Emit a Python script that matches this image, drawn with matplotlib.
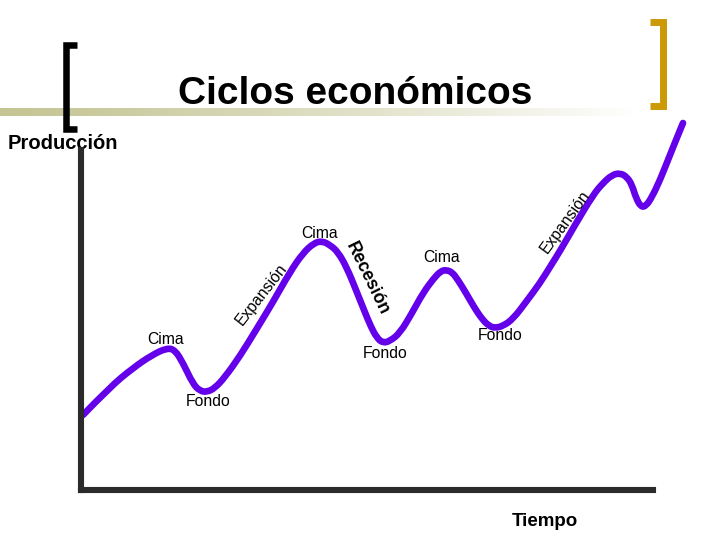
import numpy as np
import matplotlib.pyplot as plt
from matplotlib.path import Path
from matplotlib.patches import PathPatch

# curve (time, output), origin at the axes corner
tiempo = [2, 29, 52, 71, 86, 94, 102, 112, 119, 126, 134, 144, 159, 175, 192,
          209, 222, 233, 241, 249, 257, 266, 275, 283, 290, 296, 302, 309, 319,
          331, 342, 353, 360, 365, 371, 377, 385, 393, 401, 408, 414, 422, 432,
          445, 459, 469, 479, 494, 512, 522, 531, 539, 546, 551, 555, 560, 565,
          571, 579, 587, 595, 602]
produccion = [75, 103, 122, 135, 142, 140, 127, 106, 99, 98, 102, 113, 134, 160,
              188, 218, 237, 247, 249, 245, 238, 222, 200, 180, 163, 152, 147,
              149, 157, 177, 197, 212, 219, 220, 218, 210, 197, 183, 171, 164,
              162, 164, 171, 188, 207, 223, 239, 265, 295, 307, 315, 317, 313,
              305, 292, 283, 284, 293, 310, 330, 350, 367]

# labels and where they sit
puntos = ['Cima', 'Cima', 'Cima', 'Fondo', 'Fondo', 'Fondo']
puntos_x = [85, 239, 361, 127, 304, 419]
puntos_y = [151, 257, 232, 88, 136, 154]
fases = ['Expansión', 'Recesión', 'Expansión']
fases_x = [181, 286, 484]
fases_y = [196, 211, 268]
fases_rot = [52, -64, 54]

titulo = 'Ciclos económicos'
eje_y = 'Producción'
eje_x = 'Tiempo'

W, H = 720, 540
fig = plt.figure(figsize=(W / 100, H / 100), dpi=100)
fig.patch.set_facecolor('white')

# slide decoration, pixel coordinates
deco = fig.add_axes([0, 0, 1, 1])
deco.set_xlim(0, W)
deco.set_ylim(H, 0)
deco.axis('off')

band = np.ones((1, 640, 4))
band[..., 0] = 196 / 255
band[..., 1] = 196 / 255
band[..., 2] = 148 / 255
band[..., 3] = np.clip(1 - np.linspace(0, 1, 640) ** 1.2, 0, 1)
deco.imshow(band, extent=[0, 640, 116, 108], aspect='auto', interpolation='bilinear')

deco.plot([77, 66, 66, 77], [44.5, 44.5, 128.5, 128.5], color='black', lw=4.7,
          solid_joinstyle='miter', solid_capstyle='butt')
deco.plot([650, 662.5, 662.5, 650], [21.5, 21.5, 105.5, 105.5], color='#CC9A06',
          lw=5, solid_joinstyle='miter', solid_capstyle='butt')

deco.text(355, 104, titulo, ha='center', va='baseline', fontsize=28,
          fontweight='bold', family='Liberation Sans')
deco.text(8, 149, eje_y, ha='left', va='baseline', fontsize=14.5,
          fontweight='bold', family='Liberation Sans')
deco.text(544.5, 526, eje_x, ha='center', va='baseline', fontsize=13.5,
          fontweight='bold', family='Liberation Sans')

# the chart itself
ax = fig.add_axes([81 / W, 50 / H, 572 / W, 340 / H])
ax.patch.set_alpha(0)
ax.set_xlim(0, 572)
ax.set_ylim(0, 340)
ax.set_xticks([])
ax.set_yticks([])
for s in ['top', 'right']:
    ax.spines[s].set_visible(False)
for s in ['left', 'bottom']:
    ax.spines[s].set_linewidth(4.4)
    ax.spines[s].set_color('#2b2b2b')
    ax.spines[s].set_capstyle('projecting')

# smooth the traced points with quadratic bezier segments
pts = np.column_stack([tiempo, produccion]).astype(float)
verts = [pts[0]]
codes = [Path.MOVETO]
for i in range(1, len(pts) - 1):
    verts += [pts[i], (pts[i] + pts[i + 1]) / 2]
    codes += [Path.CURVE3, Path.CURVE3]
verts.append(pts[-1])
codes.append(Path.LINETO)
curva = PathPatch(Path(verts, codes), facecolor='none', edgecolor='#6400EA',
                  lw=4.8, joinstyle='round', capstyle='round', clip_on=False)
ax.add_patch(curva)

for t, x, y in zip(puntos, puntos_x, puntos_y):
    ax.text(x, y, t, ha='center', va='center', fontsize=11.3,
            family='Liberation Sans', clip_on=False)

for t, x, y, r in zip(fases, fases_x, fases_y, fases_rot):
    bold = 'bold' if t == 'Recesión' else 'normal'
    size = 12.8 if t == 'Recesión' else 11.3
    ax.text(x, y, t, ha='center', va='center', rotation=r, fontsize=size,
            fontweight=bold, family='Liberation Sans', rotation_mode='anchor',
            clip_on=False)

fig.savefig('out.png', dpi=100)
